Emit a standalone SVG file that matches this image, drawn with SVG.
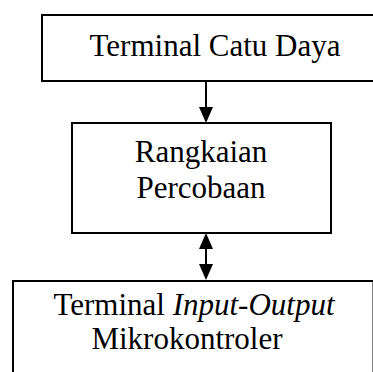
<svg xmlns="http://www.w3.org/2000/svg" width="373" height="372" viewBox="0 0 373 372">
<style>
.box{fill:#fff;stroke:#000;stroke-width:2}
.t{font-family:"Liberation Serif","Times New Roman",serif;font-size:31px;fill:#000;text-anchor:middle}
.ln{stroke:#000;stroke-width:2;fill:none}
.hd{fill:#000}
</style>
<rect width="373" height="372" fill="#fff"/>
<g id="terminal-catu-daya">
<rect class="box" x="42" y="15" width="346" height="66"/>
<text class="t" x="215" y="56">Terminal Catu Daya</text>
</g>
<g id="rangkaian-percobaan">
<rect class="box" x="72" y="123" width="259" height="110"/>
<text class="t" x="201" y="162">Rangkaian</text>
<text class="t" x="201" y="198">Percobaan</text>
</g>
<g id="terminal-io">
<rect class="box" x="13" y="281" width="360.5" height="110"/>
<text class="t" x="194" y="315">Terminal <tspan font-style="italic">Input-Output</tspan></text>
<text class="t" x="187" y="349">Mikrokontroler</text>
</g>
<g id="connectors">
<line class="ln" x1="206" y1="82" x2="206" y2="108"/>
<polygon class="hd" points="199,107 213,107 206,123"/>
<line class="ln" x1="206" y1="248" x2="206" y2="266"/>
<polygon class="hd" points="199,249 213,249 206,233"/>
<polygon class="hd" points="199,264 213,264 206,280"/>
</g>
</svg>
